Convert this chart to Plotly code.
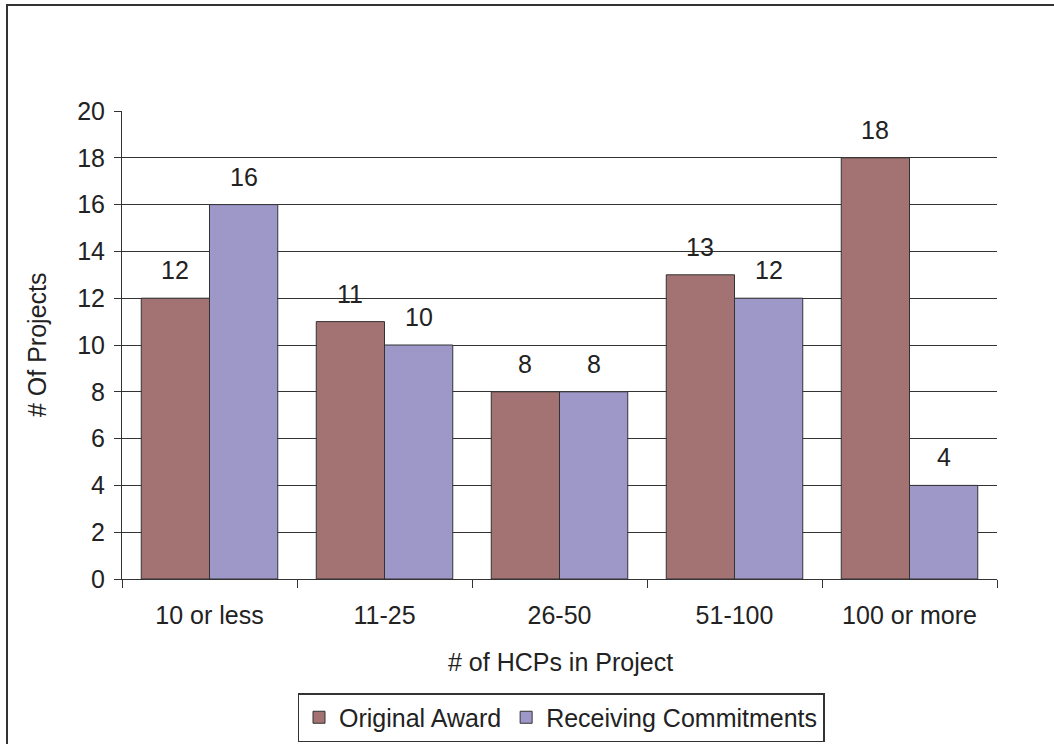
import plotly.graph_objects as go

categories = ["10 or less", "11-25", "26-50", "51-100", "100 or more"]
original_award = [12, 11, 8, 13, 18]
receiving_commitments = [16, 10, 8, 12, 4]
y_ticks = [0, 2, 4, 6, 8, 10, 12, 14, 16, 18, 20]

FONT = "Liberation Sans, Arial, sans-serif"
TXT = "#222222"
W, H = 1054, 744
L, R, T, B = 122, 57, 111, 165
PW, PH = W - L - R, H - T - B

fig = go.Figure()
fig.add_trace(go.Bar(
    name="Original Award", x=categories, y=original_award,
    marker=dict(color="#A37373", line=dict(color="#333333", width=1)),
))
fig.add_trace(go.Bar(
    name="Receiving Commitments", x=categories, y=receiving_commitments,
    marker=dict(color="#9D98C8", line=dict(color="#333333", width=1)),
))

# value labels above each bar
bar_px = PW / len(categories) * (1 - 0.22) / 2
annotations = []
for series, shift in ((original_award, -bar_px / 2), (receiving_commitments, bar_px / 2)):
    for cat, val in zip(categories, series):
        annotations.append(dict(
            x=cat, y=val, xref="x", yref="y", text=str(val), showarrow=False,
            xshift=shift, yshift=12, yanchor="bottom", xanchor="center",
            font=dict(family=FONT, size=25, color=TXT),
        ))

# axis titles
annotations.append(dict(
    x=(560 - L) / PW, y=(H - B - 662) / PH, xref="paper", yref="paper",
    xanchor="center", yanchor="middle",
    text="# of HCPs in Project", showarrow=False,
    font=dict(family=FONT, size=25, color=TXT),
))
annotations.append(dict(
    x=(37 - L) / PW, y=(H - B - 345) / PH, xref="paper", yref="paper",
    xanchor="center", yanchor="middle",
    text="# Of Projects", showarrow=False, textangle=-90,
    font=dict(family=FONT, size=25, color=TXT),
))

# outer chart frame
shapes = [dict(
    type="rect", xref="paper", yref="paper",
    x0=(7 - L) / PW, x1=(W + 5 - L) / PW,
    y0=(H - B - (H + 5)) / PH, y1=(H - B - 5) / PH,
    line=dict(color="#333333", width=2), fillcolor="rgba(0,0,0,0)",
)]

fig.update_layout(
    width=W, height=H,
    margin=dict(l=L, r=R, t=T, b=B, autoexpand=False),
    paper_bgcolor="white", plot_bgcolor="white",
    barmode="group", bargap=0.22, bargroupgap=0,
    font=dict(family=FONT, size=25, color=TXT),
    showlegend=True,
    legend=dict(
        orientation="h", x=(561 - L) / PW, xanchor="center",
        y=(H - B - 693) / PH, yanchor="top",
        bordercolor="#333333", borderwidth=1.5,
        font=dict(family=FONT, size=25, color=TXT),
        itemwidth=30, tracegroupgap=0,
    ),
    annotations=annotations,
    shapes=shapes,
    xaxis=dict(
        showline=True, linecolor="#333333", linewidth=1,
        ticks="outside", ticklen=8, tickcolor="#333333", tickson="boundaries",
        ticklabelstandoff=14,
        tickfont=dict(family=FONT, size=25, color=TXT), showgrid=False,
        automargin=False,
    ),
    yaxis=dict(
        range=[0, 20], tickvals=y_ticks,
        showline=True, linecolor="#333333", linewidth=1,
        ticks="outside", ticklen=7, tickcolor="#333333",
        ticklabelstandoff=4,
        showgrid=True, gridcolor="#333333", gridwidth=1,
        tickfont=dict(family=FONT, size=25, color=TXT),
        zeroline=False, automargin=False,
    ),
)

fig.write_html("out.html")
